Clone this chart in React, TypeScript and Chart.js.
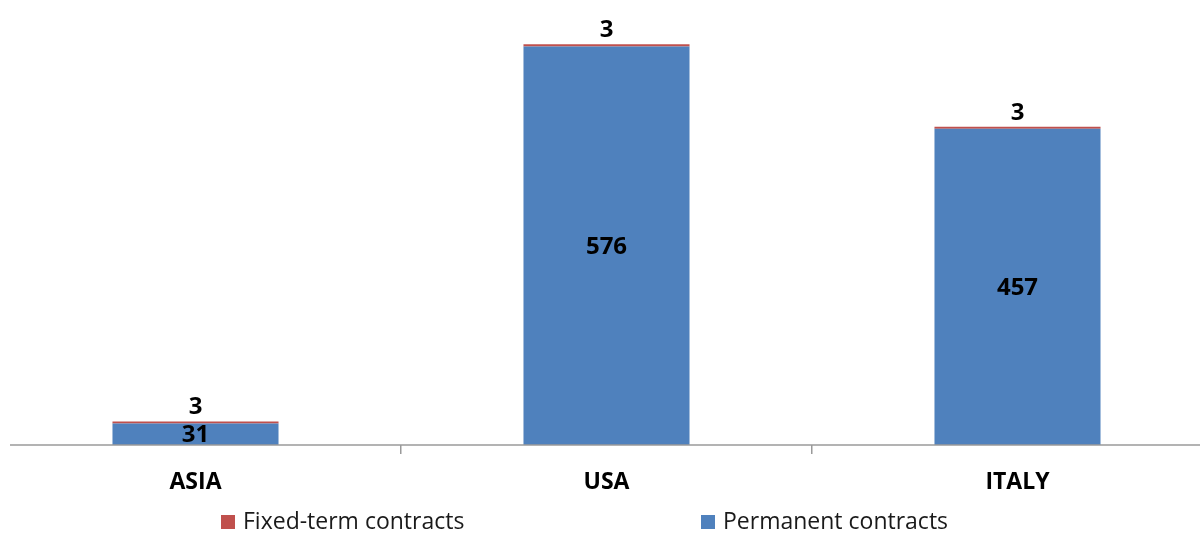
import { useEffect, useRef } from "react";
import { Chart, registerables } from "chart.js";

Chart.register(...registerables);

// Headcount by region, split by contract type
const regions = ["ASIA", "USA", "ITALY"];
const permanentContracts = [31, 576, 457];
const fixedTermContracts = [3, 3, 3];
const seriesLabels = ["Permanent contracts", "Fixed-term contracts"];
const seriesColors = ["#4F81BD", "#C0504D"];
const legendOrder = [1, 0];

const FONT = "'Open Sans', 'Liberation Sans', sans-serif";

// Value labels: inside the bottom segment, above the top segment
const valueLabels = {
  id: "valueLabels",
  afterDatasetsDraw(chart: any) {
    const ctx = chart.ctx;
    ctx.save();
    ctx.fillStyle = "#000000";
    ctx.font = `bold 24px ${FONT}`;
    ctx.textAlign = "center";
    ctx.textBaseline = "middle";
    chart.data.datasets.forEach((ds: any, di: number) => {
      const meta = chart.getDatasetMeta(di);
      meta.data.forEach((bar: any, i: number) => {
        const v = ds.data[i];
        if (di === 0) {
          ctx.fillText(String(v), bar.x, (bar.y + bar.base) / 2 + 1);
        } else {
          ctx.fillText(String(v), bar.x, bar.y - 14);
        }
      });
    });
    ctx.restore();
  },
};

// Baseline of the category axis, and the legend row underneath it
const axisAndLegend = {
  id: "axisAndLegend",
  afterDraw(chart: any) {
    const ctx = chart.ctx;
    const area = chart.chartArea;
    ctx.save();
    ctx.strokeStyle = "#9A9A9A";
    ctx.lineWidth = 1.5;
    ctx.beginPath();
    ctx.moveTo(30, area.bottom);
    ctx.lineTo(chart.width, area.bottom);
    ctx.stroke();

    ctx.font = `23px ${FONT}`;
    ctx.textBaseline = "middle";
    ctx.textAlign = "left";
    const startX = 241;
    const step = 480;
    const cy = 522;
    legendOrder.forEach((di, k) => {
      const ds = chart.data.datasets[di];
      const x = startX + k * step;
      ctx.fillStyle = ds.backgroundColor;
      ctx.fillRect(x, cy - 7, 14, 14);
      ctx.fillStyle = "#1A1A1A";
      ctx.fillText(ds.label, x + 22, cy);
    });
    ctx.restore();
  },
};

export default function App() {
  const canvasRef = useRef<HTMLCanvasElement | null>(null);

  useEffect(() => {
    document.body.style.margin = "0";
    const canvas = canvasRef.current;
    if (!canvas) return;
    const chart = new Chart(canvas, {
      type: "bar",
      data: {
        labels: regions,
        datasets: [
          {
            label: seriesLabels[0],
            data: permanentContracts,
            backgroundColor: seriesColors[0],
            borderWidth: 0,
          },
          {
            label: seriesLabels[1],
            data: fixedTermContracts,
            backgroundColor: seriesColors[1],
            borderWidth: 0,
          },
        ],
      },
      options: {
        responsive: false,
        animation: false,
        maintainAspectRatio: false,
        layout: { padding: { left: 10, right: 17, top: 16, bottom: 0 } },
        datasets: {
          bar: { categoryPercentage: 1, barPercentage: 0.404 },
        },
        plugins: {
          legend: { display: false },
          tooltip: { enabled: false },
        },
        scales: {
          x: {
            stacked: true,
            offset: true,
            border: { display: false },
            grid: {
              offset: true,
              drawOnChartArea: false,
              drawTicks: true,
              tickLength: 9,
              color: "#9A9A9A",
              lineWidth: 1.5,
            },
            ticks: {
              padding: 15,
              color: "#000000",
              font: { family: FONT, size: 23, weight: "bold" },
            },
            afterFit: (scale: any) => {
              scale.height = 88;
            },
          },
          y: {
            stacked: true,
            display: false,
            min: 0,
            max: 620,
          },
        },
      },
      plugins: [valueLabels, axisAndLegend],
    });
    return () => chart.destroy();
  }, []);

  return (
    <div
      style={{
        position: "absolute",
        left: 0,
        top: 0,
        width: 1200,
        height: 533,
        overflow: "hidden",
        background: "#ffffff",
      }}
    >
      <canvas
        ref={canvasRef}
        width={1260}
        height={533}
        style={{ position: "absolute", left: -20, top: 0, width: 1260, height: 533 }}
      />
    </div>
  );
}
